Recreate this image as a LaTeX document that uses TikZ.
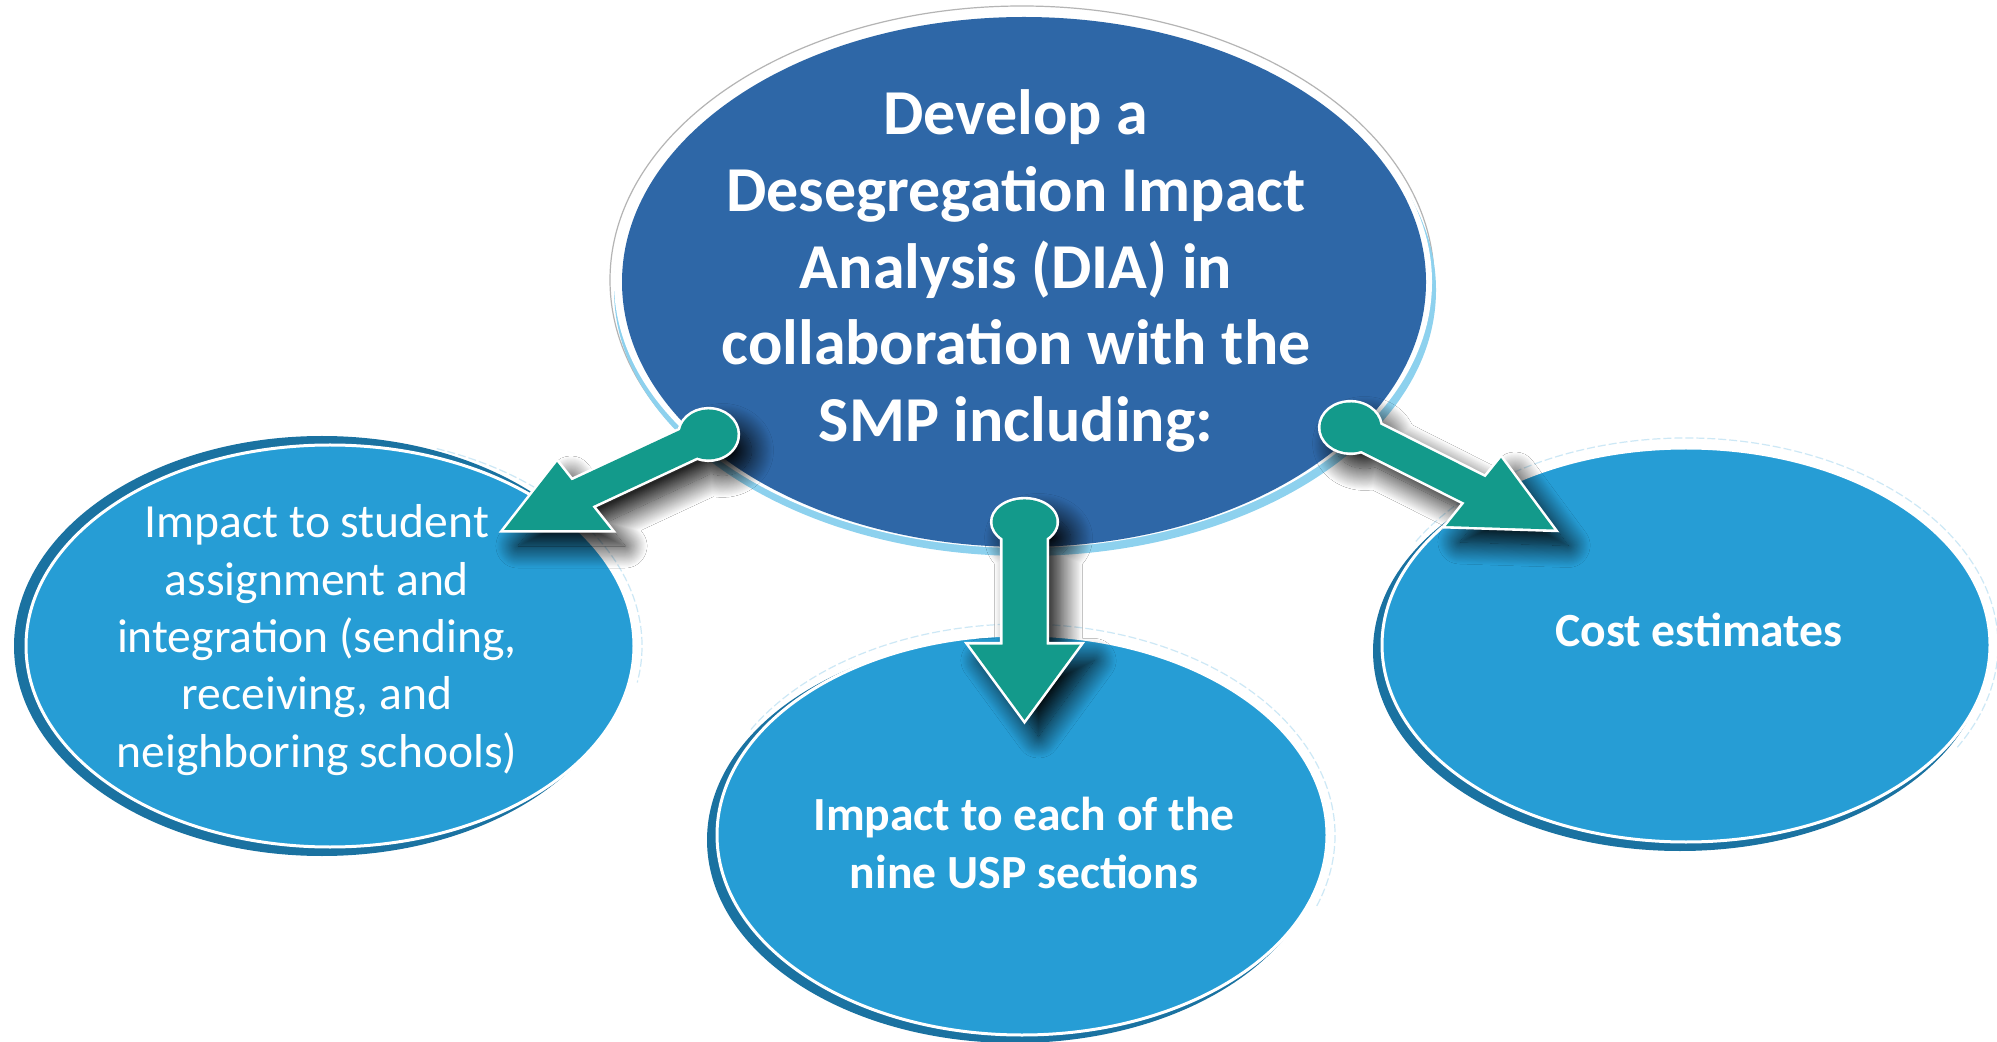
\documentclass[tikz,border=0pt]{standalone}
\usepackage{fontspec}
\setmainfont{Carlito}
\usetikzlibrary{shapes.geometric,shadows.blur}
\definecolor{cdark}{HTML}{2E67A7}
\definecolor{crim}{HTML}{8DD1EE}
\definecolor{cfill}{HTML}{269DD5}
\definecolor{cedge}{HTML}{1A72A1}
\definecolor{cteal}{HTML}{139A8B}
\definecolor{cglow}{HTML}{CDE8F6}
\definecolor{chalo}{HTML}{B4B4B4}
\begin{document}
\begin{tikzpicture}[x=0.5pt,y=-0.5pt,
  bubble/.style={ellipse, inner sep=0pt, fill=cfill, draw=white, line width=1.5pt},
  glow/.style={draw=cglow, line width=0.6pt, dash pattern=on 4pt off 1.5pt},
  fatarrow/.style={fill=white, draw=white, line width=2.6pt,
    blur shadow={shadow xshift=7pt, shadow yshift=-8pt, shadow blur radius=11pt, shadow blur steps=24, shadow opacity=100},
    postaction={fill=cteal}},
  bigtext/.style={text=white, font=\bfseries\fontsize{32}{38.4}\selectfont, align=center, inner sep=0pt},
  smalltext/.style={text=white, font=\fontsize{23.8}{28.65}\selectfont, align=center, inner sep=0pt},
  smallbold/.style={text=white, font=\bfseries\fontsize{23.8}{28.65}\selectfont, align=center, inner sep=0pt}
]
\useasboundingbox (0,0) rectangle (1997,1042);
\fill[white] (0,0) rectangle (1997,1042);

% ---- small bubbles
\fill[cedge] (322,646) ellipse[x radius=154pt, y radius=105pt];
\node[bubble, minimum width=304pt, minimum height=201pt] (impL) at (330,646) {};
\fill[cedge] (1015,840) ellipse[x radius=154pt, y radius=101.5pt];
\node[bubble, minimum width=305pt, minimum height=200pt] (impB) at (1022,835) {};
\fill[cedge] (1680,651) ellipse[x radius=153.5pt, y radius=100pt];
\node[bubble, minimum width=304pt, minimum height=197pt] (cost) at (1686,645) {};

% faint glow lines
\draw[glow] (330,646) ++(70:156pt and 105pt) arc[start angle=70, end angle=-10, x radius=156pt, y radius=105pt];
\draw[glow] (1022,835) ++(150:156.5pt and 105.5pt) arc[start angle=150, end angle=-20, x radius=156.5pt, y radius=105.5pt];
\draw[glow] (1686,645) ++(150:156pt and 103.5pt) arc[start angle=150, end angle=-30, x radius=156pt, y radius=103.5pt];

% ---- central bubble
\draw[chalo, line width=0.6pt] (1022,280) ellipse[x radius=206pt, y radius=137pt];
\fill[crim] (1025,290) ellipse[x radius=205.5pt, y radius=133pt];
\fill[white] (1023,282) ellipse[x radius=204.5pt, y radius=133pt];
\node[ellipse, inner sep=0pt, fill=cdark, minimum width=402pt, minimum height=265pt] (dia) at (1024,282) {};

% ---- texts
\node[bigtext] (tDia) at (1016,271) {Develop a\\Desegregation Impact\\Analysis (DIA) in\\collaboration with the\\SMP including:};
\node[smalltext] (tL) at (317,640) {Impact to student\\assignment and\\integration (sending,\\receiving, and\\neighboring schools)};
\node[smallbold] (tB) at (1024,843) {Impact to each of the\\nine USP sections};
\node[smallbold] (tC) at (1699,630) {Cost estimates};

% ---- arrows
\coordinate (tailL) at (708.5,434.5);
\coordinate (tipL) at (504,530);
\coordinate (tailB) at (1024.5,522);
\coordinate (tipB) at (1024.5,720);
\coordinate (tailR) at (1350.5,427.5);
\coordinate (tipR) at (1554,529.5);

\path[fatarrow] (697.1,457.4) -- (592.2,506.3) -- (611,530) -- (tipL) -- (557,462) -- (571.7,480.5) -- (680.0,430.1)
  arc[start angle=169.93, end angle=-113.1, x radius=14.5pt, y radius=12.5pt] -- cycle;

\path[fatarrow] (1046.5,538.3) -- (1046.5,644.5) -- (1080,644.5) -- (tipB) -- (969,644.5) -- (1002.5,644.5) -- (1002.5,538.3)
  arc[start angle=-133.43, end angle=-406.57, x radius=16pt, y radius=11.25pt] -- cycle;

\path[fatarrow] (1380.3,424.6) -- (1485.4,477.4) -- (1501,458) -- (tipR) -- (1446,526) -- (1464.7,502.8) -- (1361.3,450.8)
  arc[start angle=-68.9, end angle=-353.25, x radius=15pt, y radius=12.5pt] -- cycle;
\end{tikzpicture}
\end{document}
